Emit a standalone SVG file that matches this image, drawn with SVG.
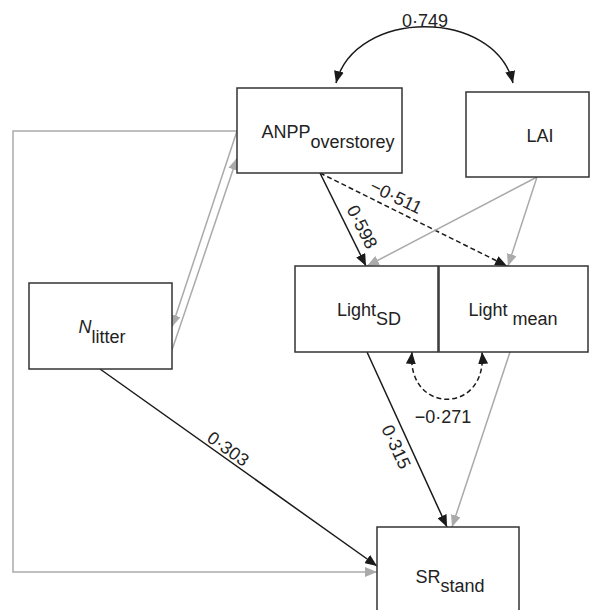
<svg xmlns="http://www.w3.org/2000/svg" width="600" height="610" viewBox="0 0 600 610">
<style>
.box{fill:#fff;stroke:#333;stroke-width:1.5}
.t{font-family:"Liberation Sans",Arial,sans-serif;font-size:18px;fill:#222}
.blk{fill:none;stroke:#1a1a1a;stroke-width:1.5}
.gry{fill:none;stroke:#aaaaaa;stroke-width:1.5}
.dsh{stroke-dasharray:5,3}
</style>
<defs>
<marker id="ab" markerUnits="userSpaceOnUse" markerWidth="12" markerHeight="10" refX="12" refY="5" orient="auto-start-reverse"><path d="M0,0 L12,5 L0,10 z" fill="#1a1a1a"/></marker>
<marker id="ag" markerUnits="userSpaceOnUse" markerWidth="12" markerHeight="10" refX="12" refY="5" orient="auto"><path d="M0,0 L12,5 L0,10 z" fill="#aaaaaa"/></marker>
</defs>
<g id="connectors">
<path class="blk" d="M336,83 C355,8 495,8 513,83" marker-start="url(#ab)" marker-end="url(#ab)"/>
<polyline class="gry" points="237,131 13,131 13,572 377,572" marker-end="url(#ag)"/>
<line class="gry" x1="237" y1="131" x2="172" y2="327" marker-end="url(#ag)"/>
<line class="gry" x1="172" y1="350" x2="237" y2="158" marker-end="url(#ag)"/>
<line class="blk" x1="320" y1="173" x2="366" y2="266" marker-end="url(#ab)"/>
<line class="blk dsh" x1="320" y1="173" x2="507" y2="266" marker-end="url(#ab)"/>
<line class="gry" x1="537" y1="177" x2="367" y2="266" marker-end="url(#ag)"/>
<line class="gry" x1="537" y1="177" x2="508" y2="266" marker-end="url(#ag)"/>
<line class="blk" x1="367" y1="352" x2="447" y2="527" marker-end="url(#ab)"/>
<line class="gry" x1="510" y1="352" x2="452" y2="527" marker-end="url(#ag)"/>
<line class="blk" x1="100" y1="369" x2="377" y2="566" marker-end="url(#ab)"/>
<path class="blk dsh" d="M412,352 C406,415 488,415 482,352" marker-start="url(#ab)" marker-end="url(#ab)"/>
<text class="t" x="425" y="27" text-anchor="middle">0·749</text>
<text class="t" text-anchor="middle" transform="translate(396,197) rotate(26)" y="6">−0·511</text>
<text class="t" text-anchor="middle" transform="translate(362,227) rotate(63)" y="6">0·598</text>
<text class="t" text-anchor="middle" transform="translate(396,447) rotate(65.4)" y="6">0·315</text>
<text class="t" text-anchor="middle" transform="translate(228,449) rotate(35.4)" y="6">0·303</text>
<text class="t" x="443" y="423" text-anchor="middle">−0·271</text>
</g>
<g id="anpp"><rect class="box" x="237" y="88" width="165" height="85"/><text class="t" x="328" y="138" text-anchor="middle">ANPP<tspan dy="10">overstorey</tspan></text></g>
<g id="lai"><rect class="box" x="466" y="92" width="123" height="85"/><text class="t" x="540" y="142" text-anchor="middle">LAI</text></g>
<g id="nlitter"><rect class="box" x="29" y="283" width="143" height="86"/><text class="t" x="102" y="333" text-anchor="middle"><tspan font-style="italic">N</tspan><tspan dy="10">litter</tspan></text></g>
<g id="lightsd"><rect class="box" x="295" y="266" width="143" height="86"/><text class="t" x="369" y="316" text-anchor="middle">Light<tspan dy="9">SD</tspan></text></g>
<g id="lightmean"><rect class="box" x="439" y="266" width="149" height="86"/><text class="t" x="513" y="316" text-anchor="middle">Light <tspan dy="9">mean</tspan></text></g>
<g id="srstand"><rect class="box" x="377" y="527" width="142" height="95"/><text class="t" x="450" y="583" text-anchor="middle">SR<tspan dy="9">stand</tspan></text></g>
</svg>
